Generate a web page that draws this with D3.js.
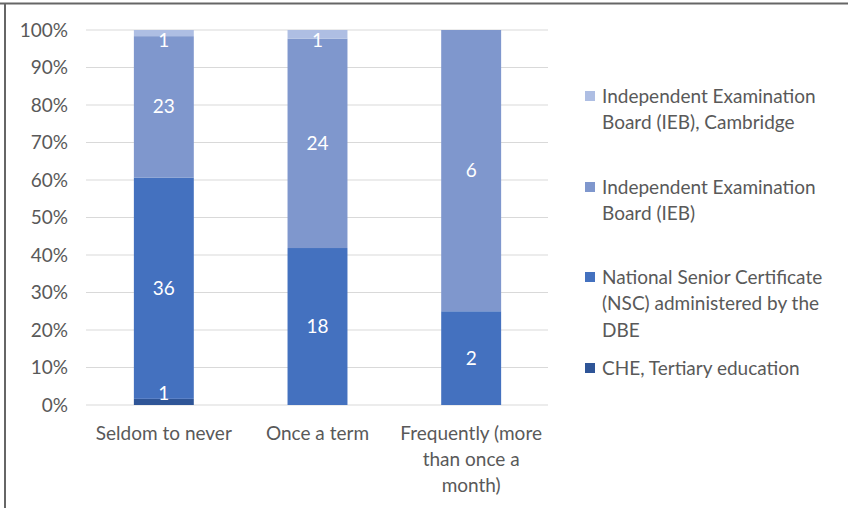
<!DOCTYPE html>
<html>
<head>
<meta charset="utf-8">
<script src="https://cdn.jsdelivr.net/npm/d3@7"></script>
<style>
  body { margin: 0; background: #fff; }
  svg { display: block; font-family: Lato, "Open Sans", sans-serif; }
</style>
</head>
<body>
<svg id="chart" width="848" height="508"></svg>
<script>
const categories = [["Seldom to never"], ["Once a term"], ["Frequently (more", "than once a", "month)"]];
const seriesNames = ["CHE, Tertiary education", "National Senior Certificate (NSC) administered by the DBE", "Independent Examination Board (IEB)", "Independent Examination Board (IEB), Cambridge"];
const legendLines = [["CHE, Tertiary education"], ["National Senior Certificate", "(NSC) administered by the", "DBE"], ["Independent Examination", "Board (IEB)"], ["Independent Examination", "Board (IEB), Cambridge"]];
const che = [1, 0, 0];
const nsc = [36, 18, 2];
const ieb = [23, 24, 6];
const cambridge = [1, 1, 0];
const colors = ["#2f5597", "#4471bf", "#7f97cd", "#aebee3"];
const yTicks = [0, 0.1, 0.2, 0.3, 0.4, 0.5, 0.6, 0.7, 0.8, 0.9, 1];

const svg = d3.select('#chart');
const textColor = '#595959';
const fs = '19px';

// frame
svg.append('line').attr('x1', 0).attr('x2', 848).attr('y1', 3.5).attr('y2', 3.5)
  .attr('stroke', '#666').attr('stroke-width', 2);
svg.append('line').attr('x1', 5).attr('x2', 5).attr('y1', 3).attr('y2', 508)
  .attr('stroke', '#666').attr('stroke-width', 2);

const x = d3.scaleBand().domain(d3.range(categories.length)).range([87, 548]).paddingInner(0.61).paddingOuter(0.305);
const y = d3.scaleLinear().domain([0, 1]).range([405, 30]);

// gridlines
svg.append('g').selectAll('line').data(yTicks).enter().append('line')
  .attr('x1', 86).attr('x2', 548)
  .attr('y1', d => y(d)).attr('y2', d => y(d))
  .attr('stroke', '#d9d9d9').attr('stroke-width', 1);

// y axis labels
const yAxis = d3.axisLeft(y).tickValues(yTicks).tickFormat(d3.format('.0%')).tickSize(0).tickPadding(0);
const yg = svg.append('g').attr('transform', 'translate(68,0)').call(yAxis);
yg.select('.domain').remove();
yg.selectAll('text').attr('fill', textColor).style('font-size', fs).style('font-family', 'Lato, "Open Sans", sans-serif');

// stack
const rows = categories.map((c, i) => ({ i, s0: che[i], s1: nsc[i], s2: ieb[i], s3: cambridge[i] }));
const stack = d3.stack().keys(['s0', 's1', 's2', 's3']).offset(d3.stackOffsetExpand);
const layers = stack(rows);

const groups = svg.append('g').selectAll('g').data(layers).enter().append('g')
  .attr('fill', (d, k) => colors[k]);
groups.selectAll('rect').data(d => d).enter().append('rect')
  .attr('x', d => x(d.data.i))
  .attr('width', x.bandwidth())
  .attr('y', d => y(d[1]))
  .attr('height', d => y(d[0]) - y(d[1]));

// data labels
const labelData = [];
layers.forEach((layer, k) => {
  layer.forEach(d => {
    const v = d.data['s' + k];
    if (v > 0) {
      let cy = (y(d[0]) + y(d[1])) / 2;
      cy = Math.max(y(1) + 10, Math.min(y(0) - 12, cy));
      labelData.push({ v, cx: x(d.data.i) + x.bandwidth() / 2, cy });
    }
  });
});
svg.append('g').selectAll('text').data(labelData).enter().append('text')
  .attr('x', d => d.cx).attr('y', d => d.cy)
  .attr('dy', '0.35em').attr('text-anchor', 'middle')
  .attr('fill', '#fff').style('font-size', fs)
  .text(d => d.v);

// x labels
const xl = svg.append('g').selectAll('text').data(categories).enter().append('text')
  .attr('x', (d, i) => x(i) + x.bandwidth() / 2)
  .attr('y', 440)
  .attr('text-anchor', 'middle').attr('fill', textColor).style('font-size', fs);
xl.selectAll('tspan').data(d => d).enter().append('tspan')
  .attr('x', function () { return d3.select(this.parentNode).attr('x'); })
  .attr('dy', (d, j) => j === 0 ? 0 : 26)
  .text(d => d);

// legend (top to bottom: Cambridge, IEB, NSC, CHE)
const legendY = [96, 187, 277, 368];
const legendOrder = [3, 2, 1, 0];
const lg = svg.append('g').selectAll('g').data(legendOrder).enter().append('g')
  .attr('transform', (k, j) => `translate(585,${legendY[j]})`);
lg.append('rect').attr('x', 0).attr('y', -5).attr('width', 10).attr('height', 10)
  .attr('fill', k => colors[k]);
const lt = lg.append('text').attr('x', 17).attr('y', 0)
  .attr('fill', textColor).style('font-size', fs);
lt.selectAll('tspan').data(k => legendLines[k]).enter().append('tspan')
  .attr('x', 17).attr('dy', (d, j) => j === 0 ? '0.35em' : 26.5)
  .text(d => d);
</script>
</body>
</html>
